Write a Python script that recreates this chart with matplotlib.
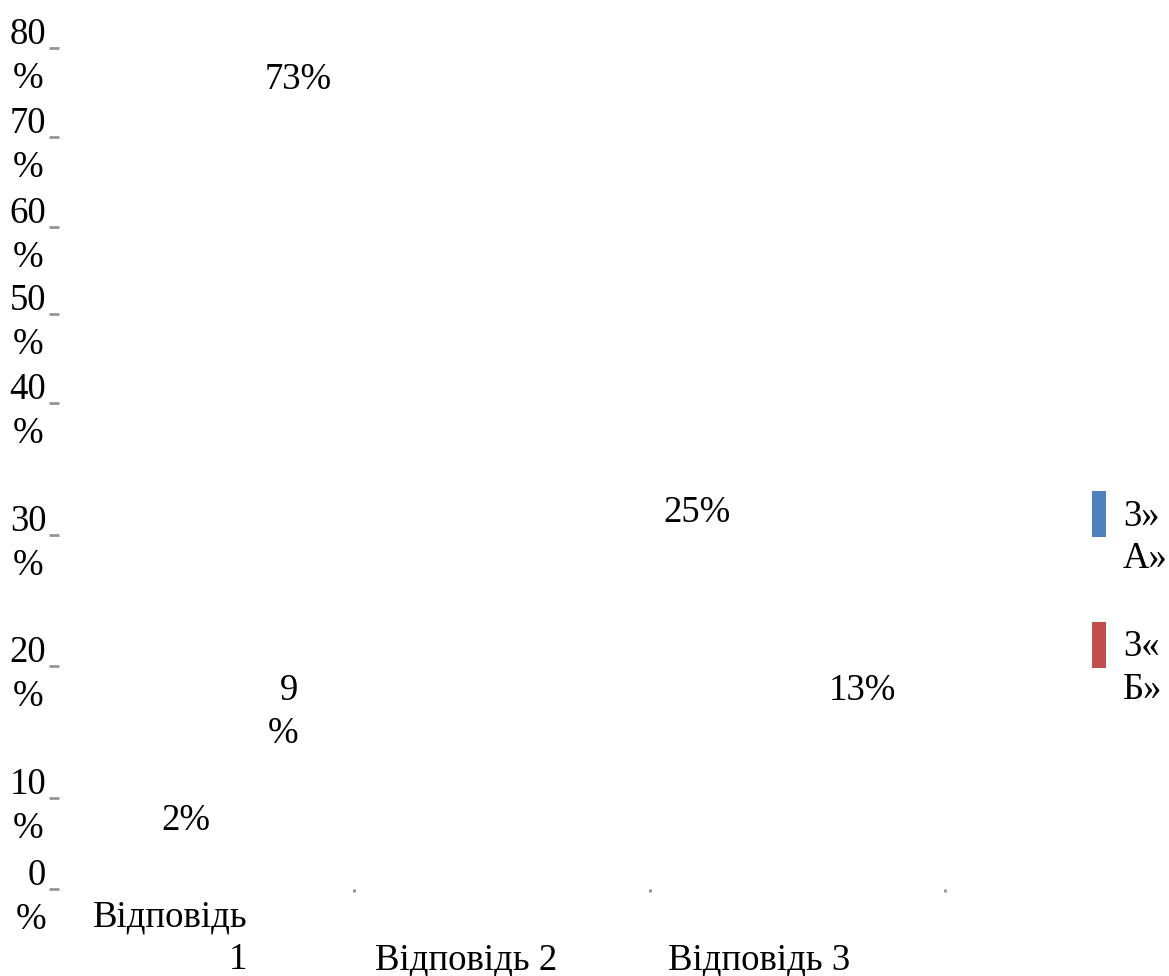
import numpy as np
import matplotlib.pyplot as plt
from matplotlib.patches import Rectangle

plt.rcParams['font.family'] = ['Liberation Serif', 'DejaVu Serif']

# categories and series
answers = ['Відповідь\n1', 'Відповідь 2', 'Відповідь 3']
series = ['3»\nА»', '3«\nБ»']
series_colors = ['#4F81BD', '#C0504D']

# value labels as printed on the chart
label_values = [2, 9, 73, 25, 13]
label_x = [0.43, 0.81, 0.81, 2.16, 2.72]
label_y = [7.5, 16.5, 76.4, 31.7, 18.1]
label_ha = ['center', 'right', 'center', 'center', 'center']

y_ticks = [0, 10, 20, 30, 40, 50, 60, 70, 80]
# uneven spacing of the gridlines along the value axis (fraction of height)
tick_frac = [0, 0.1082, 0.2652, 0.4209, 0.5779, 0.6837, 0.7872, 0.8942, 1.0]


def fwd(v):
    return np.interp(v, y_ticks, tick_frac)


def inv(f):
    return np.interp(f, tick_frac, y_ticks)


fs = 26.5
W, H = 1169, 976
fig = plt.figure(figsize=(W / 100, H / 100), dpi=100)
ax = fig.add_axes([59 / W, 87 / H, 886 / W, 841 / H])
ax.set_yscale('function', functions=(fwd, inv))
ax.set_xlim(0, 3)
ax.set_ylim(0, 80)
for s in ax.spines.values():
    s.set_visible(False)

ax.set_yticks(y_ticks)
ax.set_yticklabels(['%d\n%%' % t for t in y_ticks], fontsize=fs)
for t, lab in zip(y_ticks, ax.get_yticklabels()):
    lab.set_linespacing(1.35)
    lab.set_multialignment('right' if t == 0 else 'center')
ax.tick_params(axis='y', direction='out', length=7.2, width=2.0,
               color='#969696', pad=2)
ax.set_xticks([1, 2, 3])
ax.set_xticklabels([])
ax.tick_params(axis='x', direction='out', length=2.2, width=2.2,
               color='#969696')

# category names below the axis
cat_x = [0.638, 1.38, 2.37]
cat_ha = ['right', 'center', 'center']
for name, x, ha in zip(answers, cat_x, cat_ha):
    ax.text(x, -0.105, name, fontsize=fs, ha=ha, va='bottom',
            multialignment='right', linespacing=1.3,
            transform=ax.get_xaxis_transform())

for v, x, y, ha in zip(label_values, label_x, label_y, label_ha):
    txt = '%d\n%%' % v if v == 9 else '%d%%' % v
    ax.text(x, y, txt, fontsize=fs, ha=ha, va='center',
            multialignment='right', linespacing=1.3)

# legend: colour swatch with a wrapped series name beside it
for i, (name, c) in enumerate(zip(series, series_colors)):
    top = 491 + i * 131
    fig.patches.append(Rectangle((1092 / W, 1 - (top + 46) / H), 14 / W,
                                 46 / H, transform=fig.transFigure,
                                 facecolor=c, edgecolor='none'))
    fig.text(1123 / W, 1 - (top + 8) / H, name, fontsize=fs, ha='left',
             va='top', linespacing=1.32)

fig.savefig('out.png', dpi=100)
